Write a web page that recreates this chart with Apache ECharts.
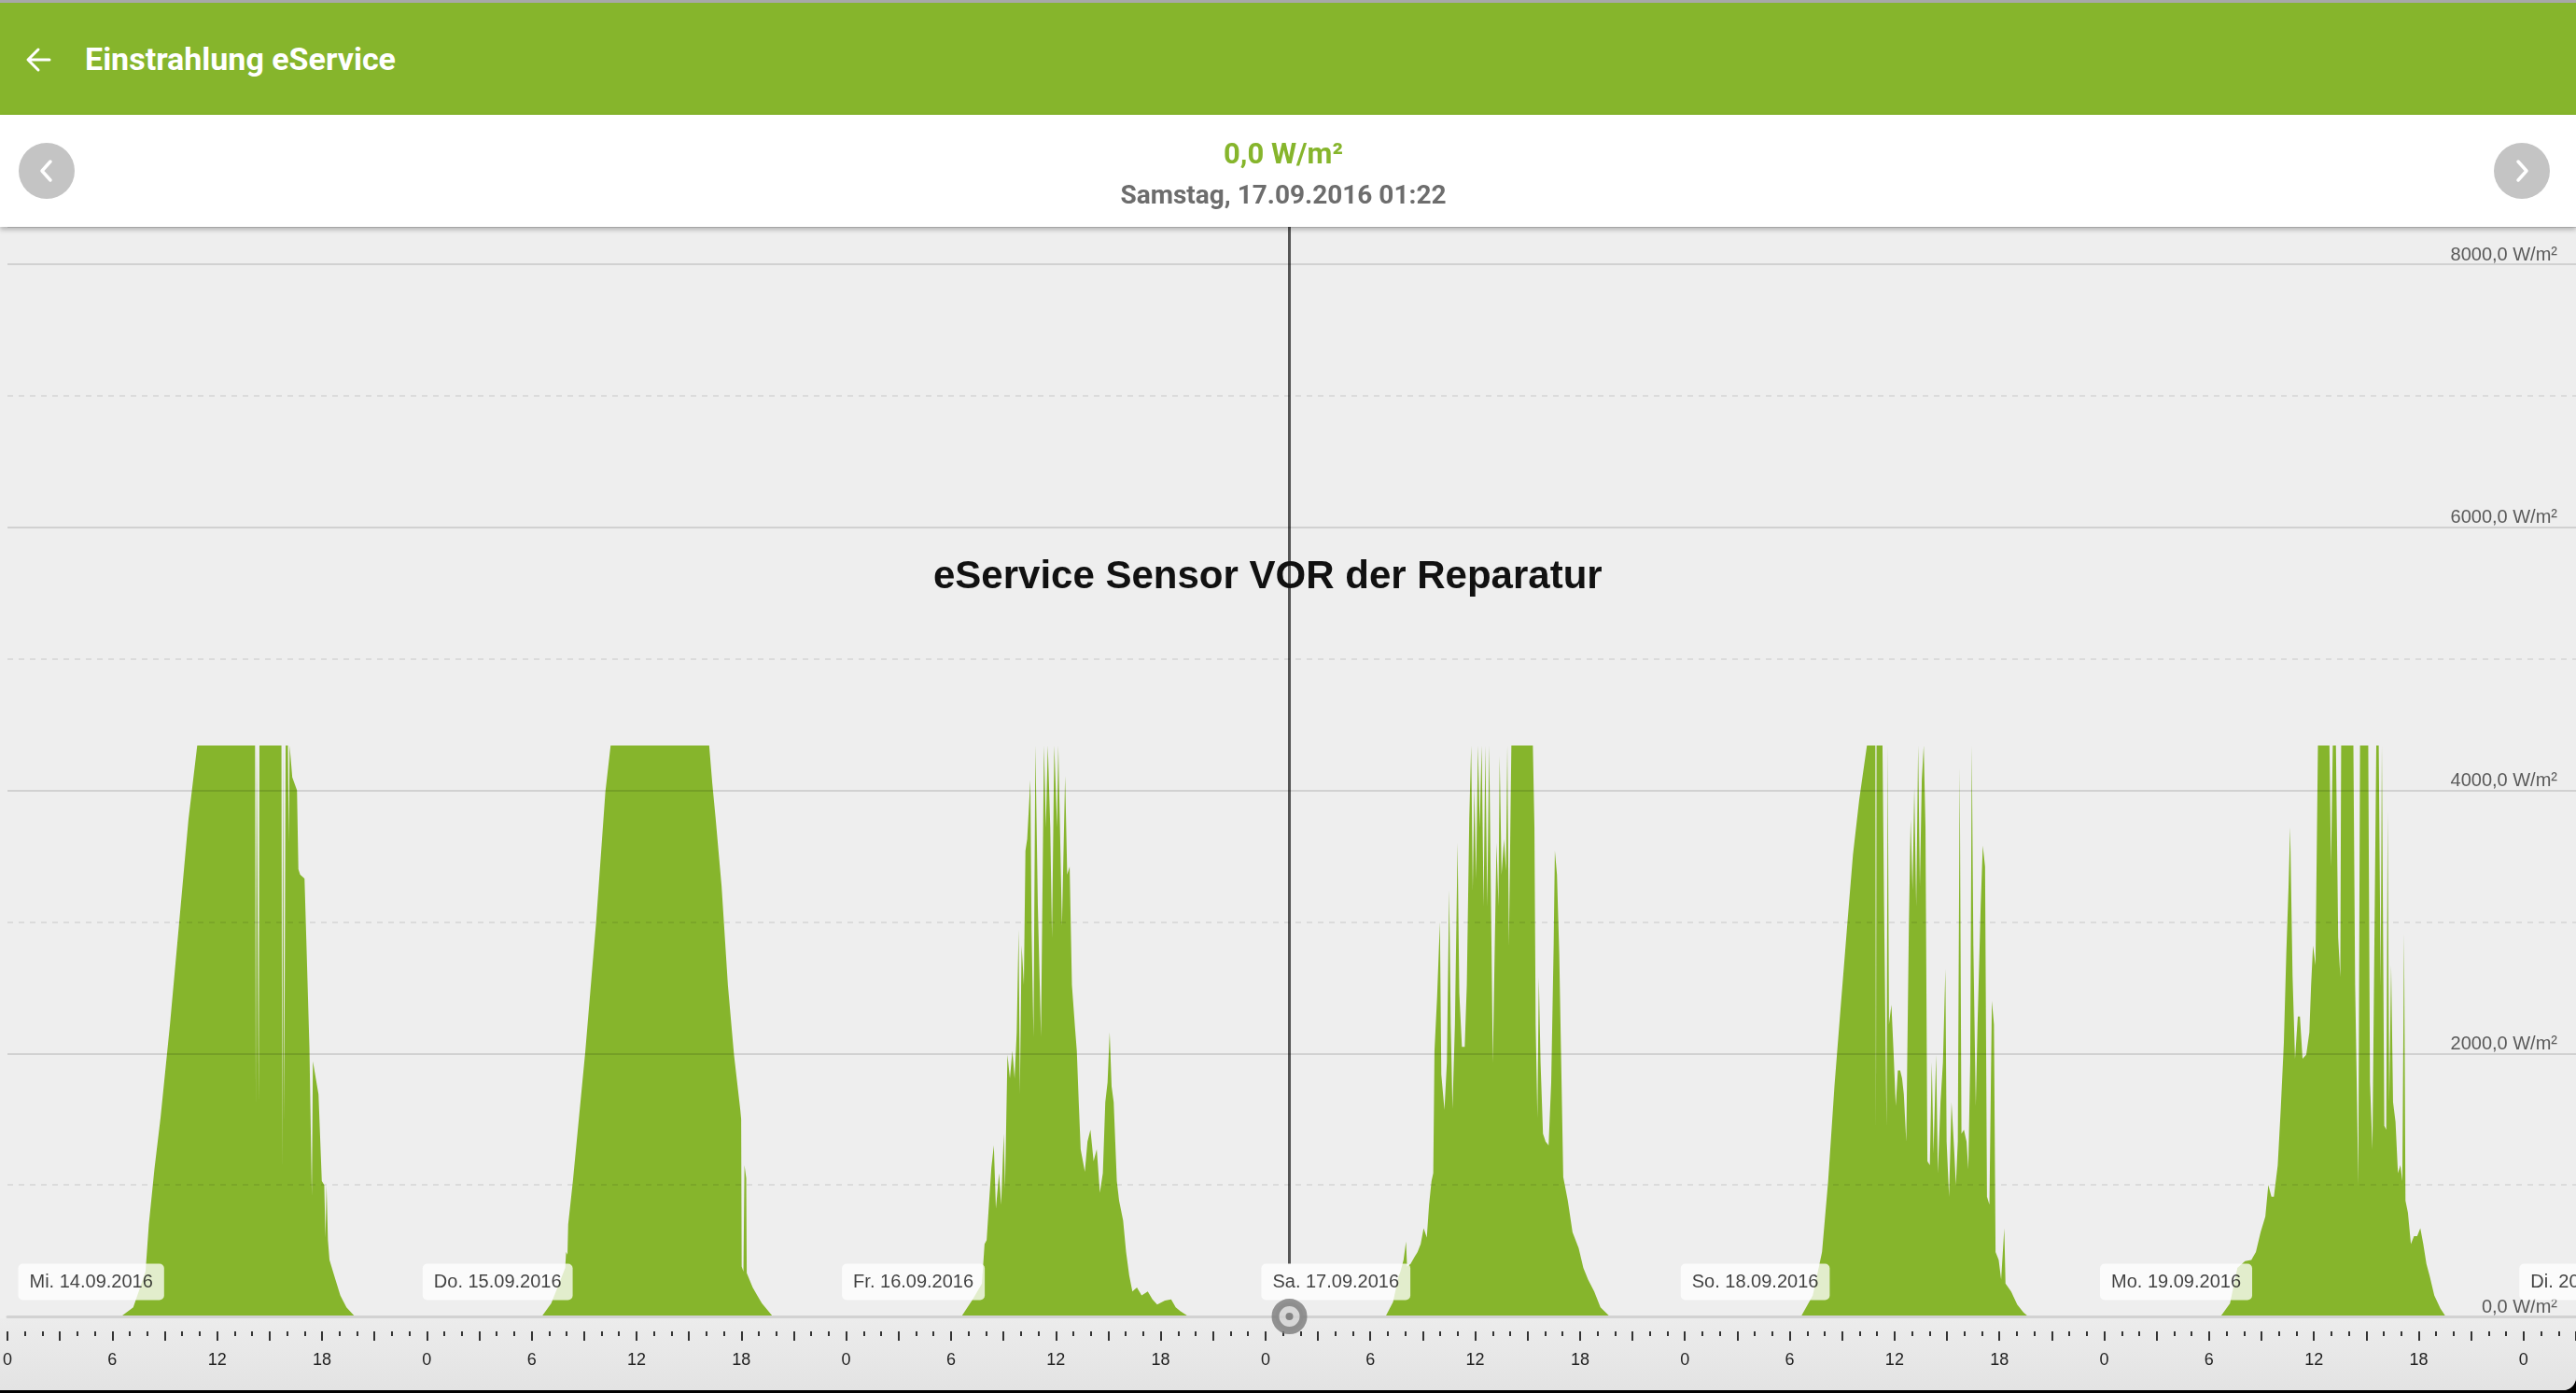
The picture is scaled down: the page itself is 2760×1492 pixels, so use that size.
<!DOCTYPE html>
<html>
<head>
<meta charset="utf-8">
<title>Einstrahlung eService</title>
<script src="https://cdn.jsdelivr.net/npm/echarts@6/dist/echarts.min.js"></script>
<style>
  html, body { margin: 0; padding: 0; background: #000; }
  #app {
    position: relative; width: 2760px; height: 1489px; background: #eeeeee;
    overflow: hidden; border-bottom-right-radius: 14px;
    font-family: Roboto, "Noto Sans", sans-serif;
  }
  ._topline { position: absolute; left: 0; top: 0; width: 100%; height: 3px; background: #a8a8a8; }
  ._header { position: absolute; left: 0; top: 3px; width: 100%; height: 120px; background: #86b52c; }
  ._header svg { position: absolute; left: 26px; top: 46px; }
  ._header-title {
    position: absolute; left: 91px; top: 0; line-height: 120px;
    font-size: 34px; font-weight: 700; color: #fff;
  }
  ._panel {
    position: absolute; left: 0; top: 123px; width: 100%; height: 120px; background: #fff;
    box-shadow: 0 3px 5px rgba(0, 0, 0, 0.25); z-index: 3;
  }
  ._btn { position: absolute; top: 30px; width: 60px; height: 60px; border-radius: 50%; background: #c4c4c4; }
  ._value, ._date { position: absolute; left: 0; width: 2750px; text-align: center; font-weight: 700; }
  ._value { top: 22px; line-height: 40px; font-size: 31px; color: #86b52c; }
  ._date { top: 68px; line-height: 36px; font-size: 28px; color: #6d6d6d; }
  ._axisbg {
    position: absolute; left: 0; top: 1412px; width: 100%; height: 77px;
    background: linear-gradient(#ececec, #e3e3e3);
  }
  #chart { position: absolute; left: 0; top: 243px; width: 2760px; height: 1246px; }
</style>
</head>
<body>
<div id="app">
  <div class="_topline"></div>
  <div class="_header">
    <svg width="30" height="30" viewBox="0 0 30 30">
      <path d="M27 15 H5 M15 4 L4 15 L15 26" fill="none" stroke="#fff" stroke-width="3" stroke-linecap="round" stroke-linejoin="round"/>
    </svg>
    <div class="_header-title">Einstrahlung eService</div>
  </div>
  <div class="_panel">
    <div class="_btn" style="left:20px">
      <svg width="60" height="60" viewBox="0 0 60 60"><polyline points="34,20 25,30 34,40" fill="none" stroke="#fff" stroke-width="3.5" stroke-linecap="round" stroke-linejoin="round"/></svg>
    </div>
    <div class="_value">0,0 W/m²</div>
    <div class="_date">Samstag, 17.09.2016 01:22</div>
    <div class="_btn" style="left:2672px">
      <svg width="60" height="60" viewBox="0 0 60 60"><polyline points="26,20 35,30 26,40" fill="none" stroke="#fff" stroke-width="3.5" stroke-linecap="round" stroke-linejoin="round"/></svg>
    </div>
  </div>
  <div class="_axisbg"></div>
  <div id="chart"></div>
</div>

<script>
// Tageslabels (je Tag ab 0:00 Uhr)
const dayLabels = ['Mi. 14.09.2016', 'Do. 15.09.2016', 'Fr. 16.09.2016', 'Sa. 17.09.2016',
  'So. 18.09.2016', 'Mo. 19.09.2016', 'Di. 20.09.2016'];

// Zwischenlinien (gestrichelt) in W/m²
const minorLevels = [1000, 3000, 5000, 7000];

// Einstrahlung je Tag: [Stunde des Tages, W/m²]
const day14 = [[6.5,0],[7.2,70],[7.9,340],[7.97,470],[8.05,460],[8.09,700],[8.41,1120],[8.76,1510],[9.3,2220],
  [9.83,3000],[10.36,3780],[10.86,4340],[14.17,4340],[14.21,1600],[14.26,4340],[14.34,4340],[14.38,1650],
  [14.42,4340],[15.68,4340],[15.72,1150],[15.77,4340],[15.84,1500],[15.92,4340],[16.05,4340],[16.1,3600],
  [16.15,4340],[16.3,4100],[16.57,4000],[16.65,3400],[16.75,3360],[17.0,3330],[17.1,2880],[17.28,2050],
  [17.42,920],[17.48,1940],[17.8,1690],[17.99,1030],[18.13,1000],[18.2,600],[18.26,1000],[18.34,580],
  [18.43,430],[18.7,310],[19.05,160],[19.4,70],[19.88,0]];
const day15 = [[6.58,0],[7.12,100],[7.92,370],[7.97,490],[8.05,470],[8.09,700],[8.36,1030],[9.07,2015],
  [9.69,3000],[10.22,3990],[10.52,4340],[16.16,4340],[16.34,4050],[16.52,3800],[16.87,3270],[17.23,2520],
  [17.58,1990],[17.94,1570],[17.99,1500],[18.02,380],[18.12,340],[18.18,1150],[18.28,1050],[18.31,330],
  [18.65,220],[18.91,160],[19.18,100],[19.8,0]];
const day16 = [[6.6,0],[7.24,130],[7.77,250],[7.92,550],[8.04,580],[8.17,850],[8.31,1130],[8.45,1300],
  [8.57,820],[8.75,1090],[8.87,850],[9.02,1390],[9.09,970],[9.23,1990],[9.37,1810],[9.51,2020],[9.64,1810],
  [9.76,2160],[9.87,2940],[9.94,1690],[10.04,2820],[10.17,2520],[10.26,3540],[10.36,3630],[10.47,3900],
  [10.54,4080],[10.61,2940],[10.72,2130],[10.83,4340],[10.97,3120],[11.15,2130],[11.32,4340],[11.43,3720],
  [11.54,4340],[11.68,3720],[11.78,2880],[11.91,4340],[12.07,3720],[12.14,4340],[12.24,4340],[12.35,2970],
  [12.53,4110],[12.65,3360],[12.79,3420],[12.92,2520],[13.1,2190],[13.2,2020],[13.31,1630],[13.42,1270],
  [13.66,1100],[13.81,1330],[13.98,1420],[14.16,1180],[14.34,1270],[14.52,940],[14.69,1090],[14.83,1630],
  [14.96,1780],[15.08,2160],[15.19,1750],[15.31,1630],[15.49,1030],[15.62,880],[15.85,730],[16.02,490],
  [16.2,310],[16.38,190],[16.64,220],[16.91,160],[17.26,190],[17.53,130],[17.8,90],[18.24,120],[18.6,130],
  [18.86,70],[19.12,40],[19.59,0]];
const day17 = [[6.87,0],[7.3,110],[7.6,300],[7.72,340],[7.9,430],[8.04,570],[8.1,380],[8.3,400],[8.52,450],
  [8.7,490],[8.88,550],[9.05,670],[9.23,600],[9.36,850],[9.5,1030],[9.6,1090],[9.67,2020],[9.82,2430],
  [9.98,3000],[10.06,1840],[10.24,1570],[10.38,1930],[10.51,3240],[10.6,2220],[10.7,1580],[10.84,2220],
  [10.99,3600],[11.09,2460],[11.24,2050],[11.4,2050],[11.52,2520],[11.66,3780],[11.77,4340],[11.86,3240],
  [11.95,4020],[12.05,3330],[12.16,4340],[12.26,3720],[12.37,4340],[12.48,3120],[12.58,4340],[12.69,3120],
  [12.8,4340],[12.9,4340],[13.01,1930],[13.12,2820],[13.22,3600],[13.33,3120],[13.4,4260],[13.51,3360],
  [13.65,3630],[13.76,3390],[13.84,4340],[13.93,2820],[14.07,4340],[15.3,4340],[15.39,3720],[15.46,2220],
  [15.56,1510],[15.64,2580],[15.74,1930],[15.88,1390],[16.03,1330],[16.2,1300],[16.35,1780],[16.49,2820],
  [16.56,3540],[16.68,3360],[16.81,2760],[16.91,2020],[17.04,1060],[17.3,880],[17.57,640],[17.92,520],
  [18.19,370],[18.46,280],[18.81,190],[19.17,70],[19.7,0]];
const day18 = [[6.65,0],[7.32,160],[7.85,490],[8.2,1030],[8.56,1750],[8.91,2340],[9.27,2940],[9.62,3510],
  [9.98,3930],[10.42,4340],[10.9,4340],[10.935,1450],[10.97,4340],[11.31,4340],[11.4,3120],[11.54,1450],
  [11.61,4340],[11.68,2220],[11.82,2370],[11.93,2050],[12.07,1600],[12.19,1870],[12.32,1870],[12.43,1810],
  [12.53,1690],[12.67,1330],[12.82,2970],[12.92,3780],[13.03,3240],[13.13,4020],[13.24,3120],[13.35,4340],
  [13.45,3270],[13.56,4080],[13.67,4340],[13.77,3720],[13.88,1180],[14.02,1150],[14.13,1930],[14.23,1240],
  [14.38,1990],[14.48,1090],[14.63,1630],[14.77,1930],[14.91,2640],[14.98,1330],[15.12,910],[15.26,1630],
  [15.41,1270],[15.51,1000],[15.62,1330],[15.73,4170],[15.83,1390],[15.97,1420],[16.12,1330],[16.22,1120],
  [16.33,1930],[16.42,4340],[16.51,2820],[16.65,1600],[16.75,2220],[16.93,3120],[17.05,3580],[17.18,3420],
  [17.29,910],[17.43,850],[17.57,2400],[17.69,2220],[17.78,490],[17.96,430],[18.1,280],[18.28,670],
  [18.35,250],[18.67,190],[19.02,90],[19.38,30],[19.65,0]];
const day19 = [[6.66,0],[7.2,100],[7.62,370],[8.06,420],[8.42,430],[8.68,490],[8.95,640],[9.22,760],
  [9.39,1000],[9.57,910],[9.71,910],[9.93,1150],[10.1,1570],[10.28,2080],[10.42,2760],[10.55,3270],
  [10.64,3720],[10.78,2580],[10.92,1960],[11.08,2280],[11.2,2280],[11.35,1960],[11.56,1990],[11.74,2160],
  [11.84,2520],[11.95,2820],[12.09,2670],[12.23,4340],[12.89,4340],[12.98,3420],[13.08,4340],[13.26,4340],
  [13.39,2880],[13.51,2580],[13.56,4340],[14.26,4340],[14.36,2520],[14.47,1630],[14.54,1000],[14.64,4340],
  [15.11,4340],[15.21,1780],[15.35,1270],[15.46,2820],[15.57,4340],[15.71,4340],[15.82,2520],[15.89,4340],
  [15.96,4340],[16.03,1450],[16.14,1420],[16.22,3840],[16.31,1630],[16.42,2670],[16.53,1630],[16.67,1480],
  [16.81,1090],[16.95,1150],[17.06,1030],[17.16,2910],[17.24,880],[17.38,790],[17.55,550],[17.73,610],
  [17.91,610],[18.09,670],[18.26,550],[18.44,400],[18.62,310],[18.89,160],[19.24,60],[19.54,0]];

const days = [day14, day15, day16, day17, day18, day19];

// Cursor: Samstag 17.09.2016 01:22
const cursorDay = 3;
const cursorClock = [1, 22];

const xMax = 147;   // sichtbarer Bereich in Stunden ab 14.09. 0:00
const yMax = 8284;  // Platz oberhalb der 8000er Linie
const cursorLineFrom = 400; // Linie endet über der Tagesbox

const cursorHour = cursorDay * 24 + cursorClock[0] + cursorClock[1] / 60;

const irradiance = [[0, 0]];
days.forEach((day, i) => {
  day.forEach(([h, v]) => irradiance.push([i * 24 + h, v]));
});
irradiance.push([xMax, 0]);

const dayMarks = dayLabels.map((name, i) => {
  const item = { name: name, value: [i * 24, 0] };
  if (i === 0) item.label = { offset: [11, -37] };
  return item;
});

const chart = echarts.init(document.getElementById('chart'));

const option = {
  animation: false,
  title: {
    text: 'eService Sensor VOR der Reparatur',
    left: 1000,
    top: 354,
    padding: 0,
    z: 20,
    textStyle: { fontFamily: 'Liberation Sans', fontSize: 42, fontWeight: 'bold', color: '#111' },
  },
  grid: { left: 0, right: 0, top: 0, bottom: 79 },
  xAxis: [
    {
      type: 'value', min: 0, max: xMax, position: 'bottom', z: 5,
      axisLine: { show: true, onZero: false, lineStyle: { color: '#d2d2d2', width: 3 } },
      axisTick: { show: false },
      axisLabel: { show: false },
      splitLine: { show: false },
    },
    {
      type: 'value', min: 0, max: xMax, interval: 3, position: 'bottom', offset: 16,
      axisLine: { show: false, onZero: false },
      axisTick: { show: true, length: 10, lineStyle: { color: '#333', width: 2 } },
      minorTick: { show: true, splitNumber: 3, length: 5, lineStyle: { color: '#333', width: 2 } },
      axisLabel: {
        margin: 22,
        fontFamily: 'Liberation Sans',
        fontSize: 18,
        color: '#222',
        showMaxLabel: false,
        formatter: (v) => {
          const r = Math.round(v * 1000) / 1000;
          return Math.abs(r % 6) < 1e-6 ? String(r % 24) : '';
        },
      },
      splitLine: { show: false },
    },
  ],
  yAxis: {
    type: 'value', min: 0, max: yMax, interval: 2000, position: 'right', z: 5,
    axisLine: { show: false },
    axisTick: { show: false },
    axisLabel: {
      inside: true,
      margin: 20,
      verticalAlign: 'bottom',
      showMaxLabel: false,
      fontFamily: 'Liberation Sans',
      fontSize: 20,
      color: '#5a5a5a',
      formatter: (v) => (v % 2000 === 0 ? v.toFixed(1).replace('.', ',') + ' W/m²' : ''),
    },
    splitLine: { show: true, lineStyle: { color: 'rgba(0,0,0,0.12)', width: 2 } },
  },
  series: [
    {
      name: 'Einstrahlung',
      type: 'line',
      xAxisIndex: 0,
      data: irradiance,
      symbol: 'none',
      silent: true,
      lineStyle: { width: 0 },
      areaStyle: { color: '#86b52c', opacity: 1 },
      z: 2,
      markLine: {
        silent: true,
        symbol: ['none', 'none'],
        label: { show: false },
        lineStyle: { color: 'rgba(0,0,0,0.08)', width: 2, type: [6, 6] },
        data: minorLevels.map((v) => ({ yAxis: v })),
      },
    },
    {
      // senkrechte Cursorlinie
      name: 'CursorLinie',
      type: 'line',
      xAxisIndex: 0,
      data: [[cursorHour, cursorLineFrom], [cursorHour, yMax]],
      symbol: 'none',
      silent: true,
      lineStyle: { color: '#555', width: 3 },
      z: 3,
    },
    {
      name: 'Tage',
      type: 'scatter',
      xAxisIndex: 0,
      data: dayMarks,
      symbolSize: 1,
      clip: false,
      silent: true,
      itemStyle: { color: 'rgba(0,0,0,0)' },
      label: {
        show: true,
        position: 'right',
        distance: 0,
        offset: [-5, -37],
        formatter: '{b}',
        backgroundColor: 'rgba(255,255,255,0.95)',
        borderRadius: 5,
        padding: [9, 12, 8, 12],
        fontFamily: 'Liberation Sans',
        fontSize: 20,
        lineHeight: 22,
        color: '#111',
      },
      z: 12,
    },
    {
      name: 'Cursor',
      type: 'scatter',
      xAxisIndex: 0,
      data: [[cursorHour, 0]],
      symbolSize: 30,
      clip: false,
      silent: true,
      itemStyle: { color: '#d2d2d2', borderColor: '#7a7a7a', borderWidth: 8 },
      z: 13,
    },
    {
      name: 'CursorPunkt',
      type: 'scatter',
      xAxisIndex: 0,
      data: [[cursorHour, 0]],
      symbolSize: 8,
      clip: false,
      silent: true,
      itemStyle: { color: '#6e6e6e' },
      z: 14,
    },
  ],
};

chart.setOption(option);
window.addEventListener('resize', () => chart.resize());
</script>
</body>
</html>
